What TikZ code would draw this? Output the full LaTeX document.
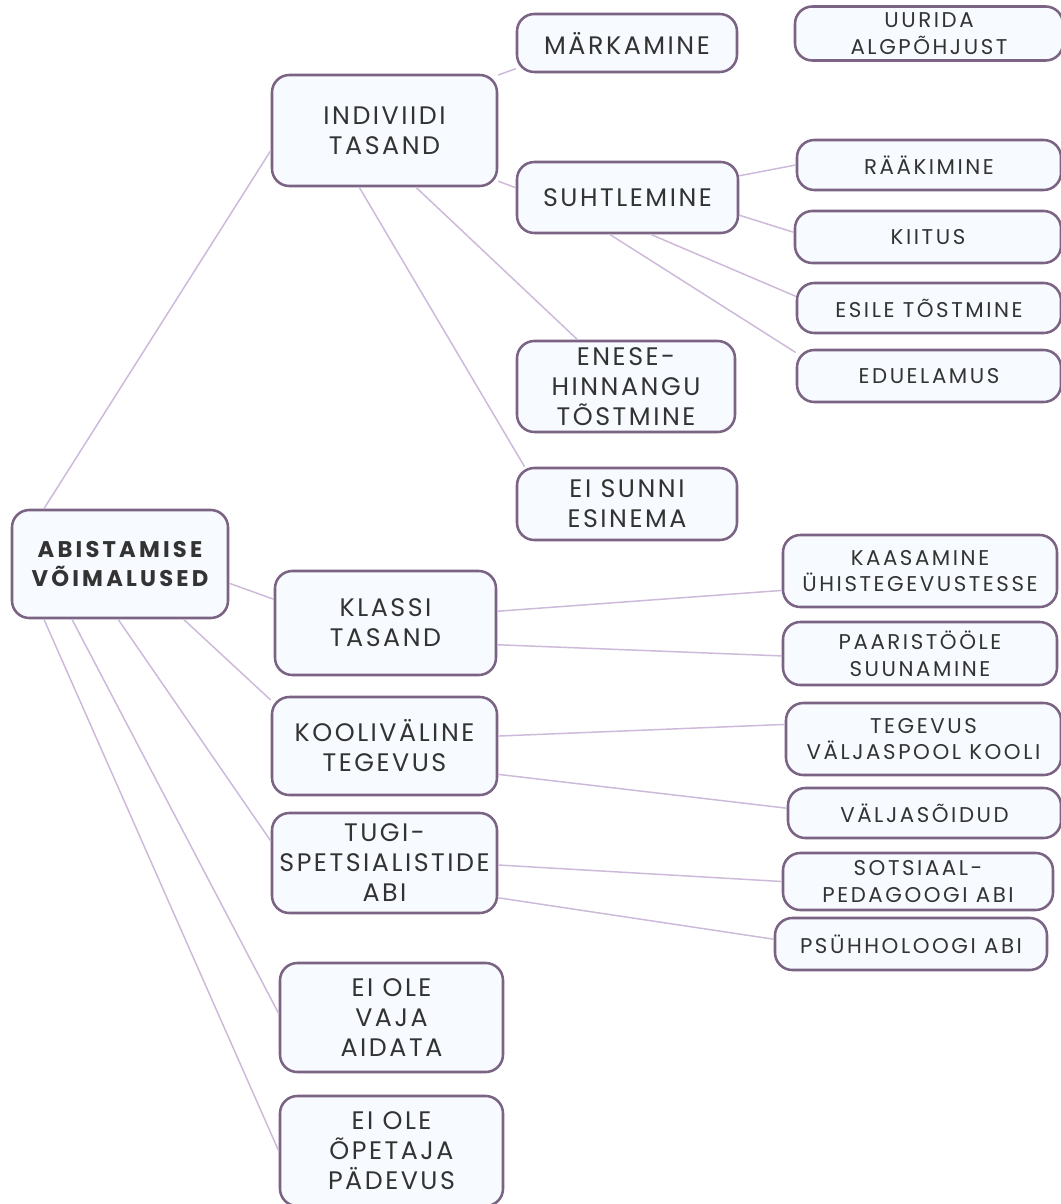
\documentclass[tikz,border=0pt]{standalone}
\usepackage{fontspec}
\setmainfont{Poppins}[LetterSpace=10]
\definecolor{boxc}{HTML}{7B6384}
\definecolor{boxfill}{HTML}{F7FAFE}
\definecolor{linec}{HTML}{CDB9DA}
\definecolor{txt}{HTML}{333333}
\begin{document}
\begin{tikzpicture}[x=0.75pt,y=-0.75pt,
  box/.style={draw=boxc, line width=1.9pt, fill=boxfill, rounded corners=13pt,
    align=center, text=txt, inner sep=0pt, font=\fontsize{19}{22.5}\selectfont},
  sbox/.style={box, font=\fontsize{16}{20}\selectfont\addfontfeature{LetterSpace=12}},
  conn/.style={draw=linec, line width=1.1pt}]
\useasboundingbox[fill=white] (0,0) rectangle (1061,1204);
% nodes
\node[box, minimum width=165pt, minimum height=43.5pt] (mark) at (627,43) {MÄRKAMINE};
\node[sbox, minimum width=201pt, minimum height=40.5pt] (uur) at (929,33.5) {UURIDA\\ALGPÕHJUST};
\node[box, minimum width=168.75pt, minimum height=83.25pt] (ind) at (384.5,130.5) {INDIVIIDI\\TASAND};
\node[box, minimum width=165.75pt, minimum height=53.25pt] (suh) at (627.5,197.5) {SUHTLEMINE};
\node[sbox, minimum width=198pt, minimum height=37.5pt] (raa) at (929,165) {RÄÄKIMINE};
\node[sbox, minimum width=199.5pt, minimum height=39pt] (kii) at (928,237) {KIITUS};
\node[sbox, minimum width=198pt, minimum height=37.5pt] (esi) at (929,308) {ESILE TÕSTMINE};
\node[sbox, minimum width=198pt, minimum height=39pt] (edu) at (929,376) {EDUELAMUS};
\node[box, minimum width=163.5pt, minimum height=68.25pt] (ene) at (626,386.5) {ENESE-\\HINNANGU\\TÕSTMINE};
\node[box, minimum width=165pt, minimum height=54pt] (sun) at (627,504) {EI SUNNI\\ESINEMA};
\node[box, minimum width=162pt, minimum height=81pt, font=\fontsize{17}{22}\selectfont\bfseries\addfontfeature{LetterSpace=14}] (abi) at (120,564) {ABISTAMISE\\VÕIMALUSED};
\node[box, minimum width=165.75pt, minimum height=78pt] (kla) at (385.5,623) {KLASSI\\TASAND};
\node[sbox, minimum width=205.5pt, minimum height=54pt] (kaa) at (920,571) {KAASAMINE\\ÜHISTEGEVUSTESSE};
\node[sbox, minimum width=205.5pt, minimum height=47.25pt] (paa) at (920,653.5) {PAARISTÖÖLE\\SUUNAMINE};
\node[box, minimum width=168.75pt, minimum height=73.5pt] (koo) at (384.5,746) {KOOLIVÄLINE\\TEGEVUS};
\node[sbox, minimum width=206.25pt, minimum height=54pt] (teg) at (923.5,739) {TEGEVUS\\VÄLJASPOOL KOOLI};
\node[sbox, minimum width=204.75pt, minimum height=37.5pt] (val) at (924.5,813) {VÄLJASÕIDUD};
\node[box, minimum width=168.75pt, minimum height=75pt] (tug) at (384.5,863) {TUGI-\\SPETSIALISTIDE\\ABI};
\node[sbox, minimum width=202.5pt, minimum height=42.75pt] (sot) at (918,881.5) {SOTSIAAL-\\PEDAGOOGI ABI};
\node[sbox, minimum width=204pt, minimum height=39pt] (psu) at (911,944) {PSÜHHOLOOGI ABI};
\node[box, minimum width=167.25pt, minimum height=81.75pt] (vaj) at (391.5,1017.5) {EI OLE\\VAJA\\AIDATA};
\node[box, minimum width=167.25pt, minimum height=82.5pt] (ope) at (391.5,1151) {EI OLE\\ÕPETAJA\\PÄDEVUS};
% connectors
\path[conn] (abi.144) -- (ind.-170);
\path[conn] (abi.-10) -- (kla.168);
\path[conn] (abi.-41) -- (koo.158);
\path[conn] (abi.-92) -- (tug.169);
\path[conn] (abi.-131) -- (vaj.178);
\path[conn] (abi.-144) -- (ope.180);
\path[conn] (ind.26) -- (mark.-167);
\path[conn] (ind.-24) -- (suh.175);
\path[conn] (ind.-61) -- (ene.136);
\path[conn] (ind.-114) -- (sun.160);
\path[conn] (suh.11) -- (raa.180);
\path[conn] (suh.-9) -- (kii.178);
\path[conn] (suh.-58) -- (esi.175);
\path[conn] (suh.-116) -- (edu.170);
\path[conn] (kla.6) -- (kaa.-172);
\path[conn] (kla.-11) -- (paa.-179);
\path[conn] (koo.5) -- (teg.174);
\path[conn] (koo.-14) -- (val.178);
\path[conn] (tug.-1) -- (sot.180);
\path[conn] (tug.-17) -- (psu.178);
\end{tikzpicture}
\end{document}
